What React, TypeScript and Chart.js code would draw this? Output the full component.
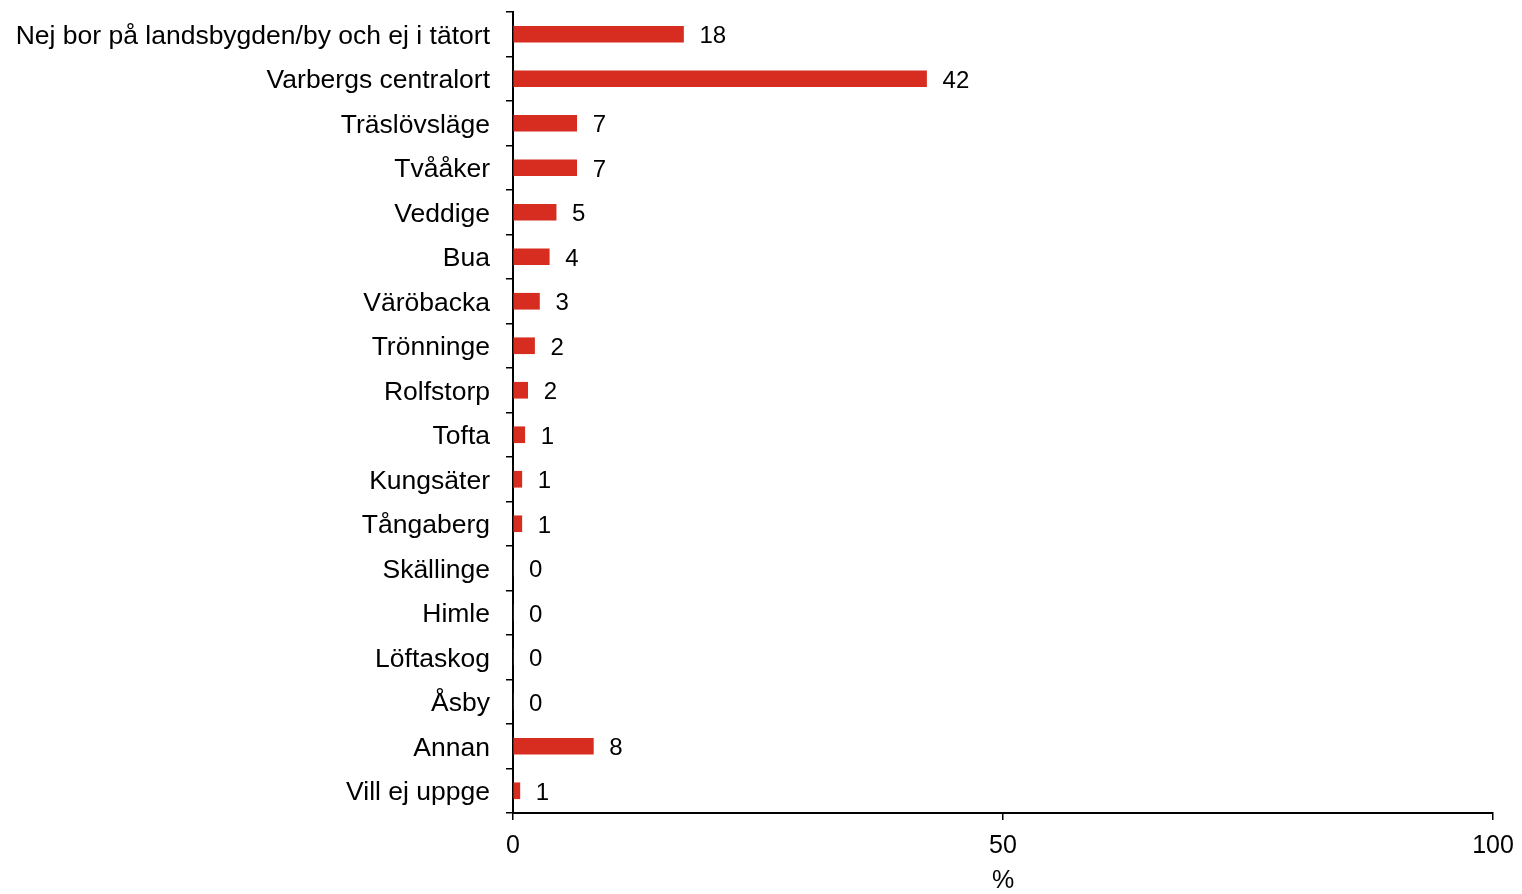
import React, { useEffect, useRef } from 'react';
import { Chart, registerables } from 'chart.js';

Chart.register(...registerables);

const categories = [
  'Nej bor på landsbygden/by och ej i tätort',
  'Varbergs centralort',
  'Träslövsläge',
  'Tvååker',
  'Veddige',
  'Bua',
  'Väröbacka',
  'Trönninge',
  'Rolfstorp',
  'Tofta',
  'Kungsäter',
  'Tångaberg',
  'Skällinge',
  'Himle',
  'Löftaskog',
  'Åsby',
  'Annan',
  'Vill ej uppge',
];

const values = [17.4, 42.2, 6.5, 6.5, 4.4, 3.7, 2.7, 2.2, 1.5, 1.2, 0.9, 0.9, 0, 0, 0, 0, 8.2, 0.7];

const valueLabels = ['18', '42', '7', '7', '5', '4', '3', '2', '2', '1', '1', '1', '0', '0', '0', '0', '8', '1'];

const xTicks = [0, 50, 100];

const FONT_FAMILY = '"Liberation Sans", Arial, Helvetica, sans-serif';

export default function App() {
  const ref = useRef<HTMLCanvasElement>(null);

  useEffect(() => {
    if (!ref.current) return;
    const valueLabelPlugin = {
      id: 'valueLabelPlugin',
      afterDatasetsDraw(chart: any) {
        const ctx = chart.ctx;
        const meta = chart.getDatasetMeta(0);
        ctx.save();
        ctx.font = `24px ${FONT_FAMILY}`;
        ctx.fillStyle = '#000';
        ctx.textAlign = 'left';
        ctx.textBaseline = 'middle';
        meta.data.forEach((bar: any, i: number) => {
          ctx.fillText(valueLabels[i], bar.x + 16, bar.y + 2.5);
        });
        ctx.restore();
      },
    };

    const catFont = { family: FONT_FAMILY, size: 26.5 };
    const axisFont = { family: FONT_FAMILY, size: 25 };

    const chart = new Chart(ref.current, {
      type: 'bar',
      data: {
        labels: categories,
        datasets: [
          {
            data: values,
            backgroundColor: '#d62d20',
            borderWidth: 0,
            barThickness: 16,
          },
        ],
      },
      options: {
        indexAxis: 'y',
        animation: false,
        responsive: false,
        maintainAspectRatio: false,
        layout: { padding: { top: 12, right: 29, left: 0, bottom: 0 } },
        plugins: { legend: { display: false }, tooltip: { enabled: false } },
        scales: {
          x: {
            min: 0,
            max: 100,
            afterBuildTicks: (scale: any) => {
              scale.ticks = xTicks.map((v) => ({ value: v }));
            },
            grid: {
              drawOnChartArea: false,
              drawTicks: true,
              tickLength: 7,
              color: '#000',
              lineWidth: 1.5,
            },
            border: { display: true, color: '#000', width: 2 },
            ticks: { color: '#000', font: axisFont, padding: 11, maxRotation: 0 },
            title: {
              display: true,
              text: '%',
              color: '#000',
              font: axisFont,
              padding: { top: 0, bottom: -2 },
            },
            afterFit: (s: any) => {
              s.height = 81;
              s.paddingLeft = 0;
              s.paddingRight = 0;
            },
          },
          y: {
            grid: {
              offset: true,
              drawOnChartArea: false,
              drawTicks: true,
              tickLength: 7,
              color: '#000',
              lineWidth: 1.5,
            },
            border: { display: true, color: '#000', width: 2 },
            ticks: { color: '#000', font: catFont, padding: 16, autoSkip: false, labelOffset: 2 },
            afterFit: (s: any) => {
              s.width = 513;
              s.paddingTop = 0;
              s.paddingBottom = 0;
            },
          },
        },
      },
      plugins: [valueLabelPlugin],
    } as any);

    return () => chart.destroy();
  }, []);

  return (
    <div style={{ position: 'absolute', left: 0, top: 0, width: 1522, height: 894, background: '#fff' }}>
      <canvas ref={ref} width={1522} height={894} style={{ display: 'block' }} />
    </div>
  );
}
